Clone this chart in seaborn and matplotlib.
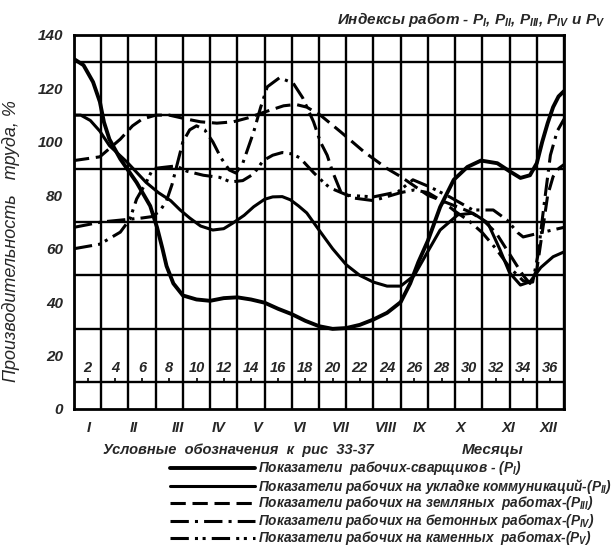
import matplotlib
matplotlib.use("Agg")
import matplotlib.pyplot as plt
from matplotlib.lines import Line2D
import seaborn as sns

# ось X: 36 делений (клетка = 2 деления), месяцы I-XII
month_labels = ["I", "II", "III", "IV", "V", "VI", "VII", "VIII", "IX", "X", "XI", "XII"]
month_pos = [1.1, 4.4, 7.6, 10.6, 13.5, 16.6, 19.6, 22.9, 25.4, 28.4, 31.9, 34.9]
band_pos = list(range(1, 36, 2))
band_labels = [str(n) for n in range(2, 37, 2)]
y_ticks = [0, 20, 40, 60, 80, 100, 120, 140]

# P_I - рабочие-сварщики
p1_x = [0, 0.7, 1.4, 1.9, 2.2, 2.6, 3.4, 4.6, 5.6, 6.1, 6.5, 6.8, 7.3, 8.0, 9.0, 10.0,
        11.0, 12.0, 13.0, 14.0, 15.0, 16.0, 17.0, 18.0, 19.0, 20.0, 21.0, 22.0, 23.0,
        24.0, 24.7, 25.3, 26.0, 26.9, 27.9, 28.9, 29.9, 31.1, 32.0, 32.8, 33.5, 34.0,
        34.4, 34.8, 35.2, 35.6, 36.0]
p1_y = [131, 128.7, 122.4, 115, 107.4, 101, 93.6, 84.8, 76, 68, 60, 53.5, 47, 42.5, 41,
        40.5, 41.5, 41.8, 41, 39.8, 37.5, 35.5, 33, 31, 30, 30.3, 31.5, 33.5, 36,
        40, 47, 55, 63, 75.6, 85.8, 90.6, 93, 92, 89, 86.5, 87.5, 92,
        100, 107, 113, 117, 119]

# P_II - укладка коммуникаций
p2_x = [0, 0.5, 1.2, 1.9, 2.6, 3.9, 5.3, 6.2, 7.1, 7.8, 8.5, 9.3, 10.2, 11.0, 11.7, 12.5,
        13.2, 14.0, 14.6, 15.3, 15.9, 16.5, 17.1, 18.0, 19.0, 20.0, 21.0, 22.0, 23.0,
        24.0, 25.0, 26.0, 26.9, 28.2, 29.3, 30.4, 31.3, 32.0, 32.8, 33.5, 34.3, 35.2, 36.0]
p2_y = [110, 110, 108, 104, 98.6, 92.4, 84.8, 81, 78, 74.5, 71.5, 68.5, 67, 67.5, 69.7, 72.5,
        75.7, 78.5, 79.4, 79.5, 78.3, 76, 73.4, 67, 60, 54, 50, 47.5, 46,
        46, 50, 59, 67, 72.7, 73.3, 69.7, 59.6, 51, 46.4, 47.6, 53, 57, 58.8]

# P_III - земляные работы
p3_x = [0, 1.9, 3.4, 4.3, 5.0, 6.0, 7.0, 8.3, 9.3, 10.5, 11.7, 12.8, 13.9, 15.4, 16.3,
        17.1, 18.1, 19.6, 21.3, 23.0, 24.0, 25.0, 26.0, 27.0, 28.0, 29.0, 30.0, 31.0,
        32.0, 33.0, 33.5, 34.0, 34.4, 34.8, 35.2, 35.6, 36.0]
p3_y = [93, 94.4, 101, 106, 108.5, 110, 110, 108.5, 107.5, 107, 107.5, 109, 111, 113.5, 114,
        113, 110, 103.7, 96.3, 90, 87, 83.5, 80, 78, 76, 74, 71, 66,
        58, 50, 47, 52, 66, 80, 87, 90, 91.5]

# P_IV - бетонные работы
p4_x = [0, 1, 2, 3, 4, 5, 5.7, 6.3, 6.8, 7.2, 7.6, 8.0, 8.5, 9.0, 9.6, 10.2, 10.8, 11.4,
        11.9, 12.4, 13.2, 13.7, 14.2, 15.1, 16.1, 16.8, 17.6, 18.1, 18.6, 19.0, 19.6,
        20.5, 22, 23, 24, 25, 26, 27, 28, 29, 30, 31, 32, 33, 33.7, 34.1, 34.5, 35.0,
        35.5, 36]
p4_y = [68, 69, 70, 70.5, 71, 71.5, 72, 74, 78, 84, 92, 100, 104.5, 106, 104.5, 100, 94, 89.5,
        88.3, 92, 103.7, 112.7, 120.6, 124, 122, 116.5, 107.5, 100, 95, 88.8, 81.3,
        79, 78, 79.5, 81, 82, 81, 78, 74, 70.5, 66, 60, 53, 48, 47.5, 58, 75, 95,
        104, 108.5]

# P_V - каменные работы
p5_x = [0, 1.9, 3.4, 4.1, 4.6, 5.3, 5.8, 7.5, 8.3, 9.5, 10.7, 11.5, 12.4, 13.2, 13.9, 14.6,
        15.3, 16.0, 16.6, 17.6, 18.3, 18.8, 20.1, 22.0, 23.8, 24.9, 26.2, 27.6, 29.3,
        30.8, 31.8, 32.6, 33.0, 34.3, 36.0]
p5_y = [60, 61.7, 66.2, 71, 78.6, 84.8, 90, 91, 89, 87.5, 86.7, 85, 85.5, 88, 93, 95,
        96, 95.5, 94, 88.5, 85, 82.8, 80, 79.4, 81.3, 85.8, 83, 79.4, 74.5,
        74.5, 70.8, 66, 64.4, 66, 68]

legend_texts = [
    "Показатели  рабочих-сварщиков - ($P_{I}$)",
    "Показатели рабочих на укладке коммуникаций-($P_{II}$)",
    "Показатели рабочих на земляных  работах-($P_{III}$)",
    "Показатели рабочих на бетонных работах-($P_{IV}$)",
    "Показатели рабочих на каменных  работах-($P_{V}$)",
]

series = [(p1_x, p1_y), (p2_x, p2_y), (p3_x, p3_y), (p4_x, p4_y), (p5_x, p5_y)]
styles = [
    dict(lw=2.8, ls="-"),
    dict(lw=2.2, ls="-"),
    dict(lw=2.2, ls=(0, (5, 2.2))),
    dict(lw=2.2, ls=(0, (6, 2, 1, 2))),
    dict(lw=2.2, ls=(0, (6, 2, 1, 1.5, 1, 2))),
]

sns.set_style("white")
plt.rcParams["font.family"] = ["Liberation Sans", "DejaVu Sans"]
plt.rcParams["font.style"] = "italic"
plt.rcParams["font.weight"] = "bold"
plt.rcParams["mathtext.fontset"] = "custom"
plt.rcParams["mathtext.it"] = "Liberation Sans:italic:bold"
plt.rcParams["mathtext.rm"] = "Liberation Sans:italic:bold"

fig = plt.figure(figsize=(6.14, 5.59), dpi=100)
ax = fig.add_axes([74 / 614, 1 - 409 / 559, 490 / 614, 374 / 559])

for (xs, ys), st in zip(series, styles):
    sns.lineplot(x=xs, y=ys, ax=ax, color="black", sort=False, estimator=None,
                 linewidth=st["lw"], linestyle=st["ls"])

ax.set_xlim(0, 36)
ax.set_ylim(0, 140)

# сетка
ax.set_xticks(range(0, 37, 2), minor=True)
ax.set_yticks(range(10, 141, 10), minor=True)
ax.grid(which="minor", color="black", linewidth=1.7)
ax.grid(which="major", visible=False)
for s in ax.spines.values():
    s.set_linewidth(2.0)
    s.set_color("black")

ax.set_xticks(month_pos)
ax.set_xticklabels(month_labels, fontsize=10.5)
ax.set_yticks(y_ticks)
ax.set_yticklabels([str(v) for v in y_ticks], fontsize=11)
ax.tick_params(which="both", length=0)
ax.tick_params(axis="x", pad=9)
ax.tick_params(axis="y", pad=8)

# полоса номеров между 10 и 20
for p, lab in zip(band_pos, band_labels):
    ax.text(p, 15.5, lab, ha="center", va="center", fontsize=10.5)
ax.vlines(band_pos, 10, 11.6, color="black", linewidth=1.2)

ax.set_ylabel("Производительность   труда, %", fontsize=13)
ax.yaxis.set_label_coords(-0.11, 0.45)

fig.text(0.985, 0.965, "Индексы работ - $P_{I}$, $P_{II}$, $P_{III}$, $P_{IV}$ и $P_{V}$",
         ha="right", va="center", fontsize=11)
fig.text(103 / 614, 1 - 450 / 559, "Условные  обозначения  к  рис  33-37",
         ha="left", va="center", fontsize=10.5)
fig.text(462 / 614, 1 - 450 / 559, "Месяцы", ha="left", va="center", fontsize=11)

# легенда
row_y = [468, 486, 503, 521, 538]
for yy, st, txt in zip(row_y, styles, legend_texts):
    fy = 1 - yy / 559
    fig.add_artist(Line2D([170 / 614, 255 / 614], [fy, fy], color="black",
                          linewidth=st["lw"], linestyle=st["ls"]))
    fig.text(258 / 614, fy, txt, ha="left", va="center", fontsize=9.8)

fig.savefig("out.png", dpi=100, facecolor="white")
